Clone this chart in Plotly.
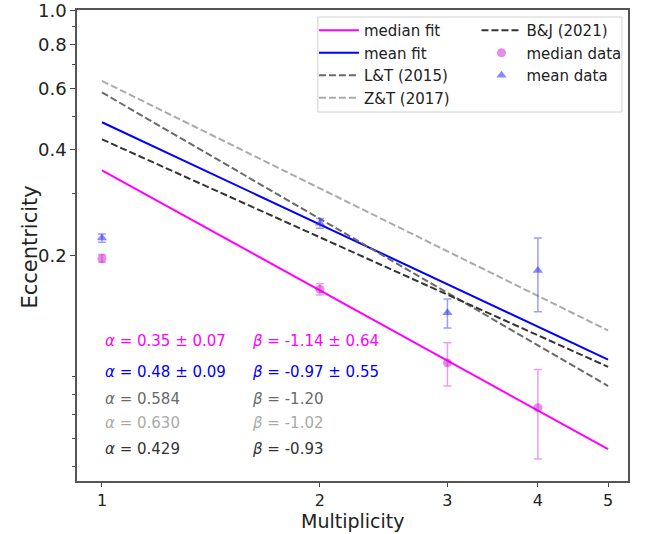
import plotly.graph_objects as go

# ---- data ----
multiplicity = [1, 2, 3, 4]
median_vals = [0.196, 0.160, 0.0986, 0.0734]
median_err = [0.005, 0.006, 0.014, 0.021]
mean_vals = [0.224, 0.247, 0.137, 0.181]
mean_err = [0.006, 0.008, 0.013, 0.043]

fit_names = ["median fit", "mean fit", "L&T (2015)", "Z&T (2017)", "B&J (2021)"]
fit_alpha = [0.35, 0.48, 0.584, 0.630, 0.429]
fit_beta = [-1.14, -0.97, -1.20, -1.02, -0.93]
fit_labels_a = ["0.35 ± 0.07", "0.48 ± 0.09", "0.584", "0.630", "0.429"]
fit_labels_b = ["-1.14 ± 0.64", "-0.97 ± 0.55", "-1.20", "-1.02", "-0.93"]
fit_range = [1, 5]

x_ticks = [1, 2, 3, 4, 5]
y_ticks = [0.2, 0.4, 0.6, 0.8, 1.0]
y_ticktext = ["0.2", "0.4", "0.6", "0.8", "1.0"]
y_minor = [0.05, 0.06, 0.07, 0.08, 0.09, 0.3, 0.5, 0.7, 0.9]

# ---- styles ----
fit_colors = ["#ff00ff", "#0000ff", "#6a6a6a", "#aaaaaa", "#333333"]
fit_dash = ["solid", "solid", "7px,3px", "7px,3px", "7px,3px"]
text_colors = ["#ff00ff", "#0000ff", "#6a6a6a", "#aaaaaa", "#333333"]
legend_ids = ["legend", "legend", "legend", "legend", "legend2"]

fig = go.Figure()
for i, name in enumerate(fit_names):
    xs = fit_range
    ys = [fit_alpha[i] * x ** fit_beta[i] for x in xs]
    fig.add_trace(go.Scatter(
        x=xs, y=ys, mode="lines", name=name,
        line=dict(color=fit_colors[i], width=2, dash=fit_dash[i]),
        legend=legend_ids[i],
    ))

fig.add_trace(go.Scatter(
    x=multiplicity, y=median_vals, mode="markers", name="median data",
    marker=dict(symbol="circle", size=9, color="rgba(204,0,204,0.45)"),
    error_y=dict(type="data", array=median_err, color="rgba(220,80,220,0.55)",
                 thickness=1.5, width=4),
    legend="legend2",
))
fig.add_trace(go.Scatter(
    x=multiplicity, y=mean_vals, mode="markers", name="mean data",
    marker=dict(symbol="triangle-up", size=9, color="rgba(40,40,255,0.55)"),
    error_y=dict(type="data", array=mean_err, color="rgba(60,60,255,0.5)",
                 thickness=1.5, width=4),
    legend="legend2",
))

# plot area: 471 px tall -> paper fractions
rows_px = [341, 372, 399, 423, 449]
rows_y = [(481 - p) / 471 for p in rows_px]
for i in range(len(fit_names)):
    fig.add_annotation(xref="paper", yref="paper", x=0.047, y=rows_y[i],
                       xanchor="left", yanchor="middle", showarrow=False,
                       text="<i>α</i> = " + fit_labels_a[i],
                       font=dict(size=15, color=text_colors[i], family="DejaVu Sans"))
    fig.add_annotation(xref="paper", yref="paper", x=0.314, y=rows_y[i],
                       xanchor="left", yanchor="middle", showarrow=False,
                       text="<i>β</i> = " + fit_labels_b[i],
                       font=dict(size=15, color=text_colors[i], family="DejaVu Sans"))

# axis titles
fig.add_annotation(xref="paper", yref="paper", x=0.5, y=(481 - 521) / 471,
                   xanchor="center", yanchor="middle", showarrow=False,
                   text="Multiplicity", font=dict(size=19, color="#222", family="DejaVu Sans"))
fig.add_annotation(xref="paper", yref="paper", x=-0.086, y=(481 - 247) / 471,
                   xanchor="center", yanchor="middle", showarrow=False, textangle=-90,
                   text="Eccentricity", font=dict(size=21, color="#222", family="DejaVu Sans"))

# legend frame
fig.add_shape(type="rect", xref="paper", yref="paper",
              x0=0.437, x1=0.989, y0=(481 - 112) / 471, y1=(481 - 17) / 471,
              line=dict(color="#d0d0d0", width=1), fillcolor="rgba(255,255,255,0.8)",
              layer="above")

legend_font = dict(size=15, color="#222222", family="DejaVu Sans")
fig.update_layout(
    width=649, height=534,
    margin=dict(l=77, r=21, t=10, b=53),
    plot_bgcolor="white", paper_bgcolor="white",
    font=dict(family="DejaVu Sans", color="#222222"),
    showlegend=True,
    legend=dict(x=0.43, y=(481 - 14) / 471, xanchor="left", yanchor="top",
                bgcolor="rgba(0,0,0,0)", font=legend_font, tracegroupgap=0,
                itemwidth=40),
    legend2=dict(x=0.725, y=(481 - 14) / 471, xanchor="left", yanchor="top",
                 bgcolor="rgba(0,0,0,0)", font=legend_font, tracegroupgap=0,
                 itemwidth=40),
    xaxis=dict(type="log", range=[-0.0345, 0.7265], automargin=False,
               tickvals=x_ticks, ticktext=[str(v) for v in x_ticks],
               ticks="outside", ticklen=4, tickwidth=1.2, tickcolor="#444",
               showline=True, linecolor="#555", linewidth=1.5, mirror=True,
               showgrid=False, zeroline=False,
               tickfont=dict(size=16, color="#222")),
    yaxis=dict(type="log", range=[-1.3437, 0.002], automargin=False,
               tickvals=y_ticks, ticktext=y_ticktext,
               ticks="outside", ticklen=5, tickwidth=1.2, tickcolor="#444",
               minor=dict(tickvals=y_minor, ticks="outside", ticklen=3, tickcolor="#444", showgrid=False),
               showline=True, linecolor="#555", linewidth=1.5, mirror=True,
               showgrid=False, zeroline=False,
               tickfont=dict(size=18, color="#222")),
)

fig.write_html("out.html")
